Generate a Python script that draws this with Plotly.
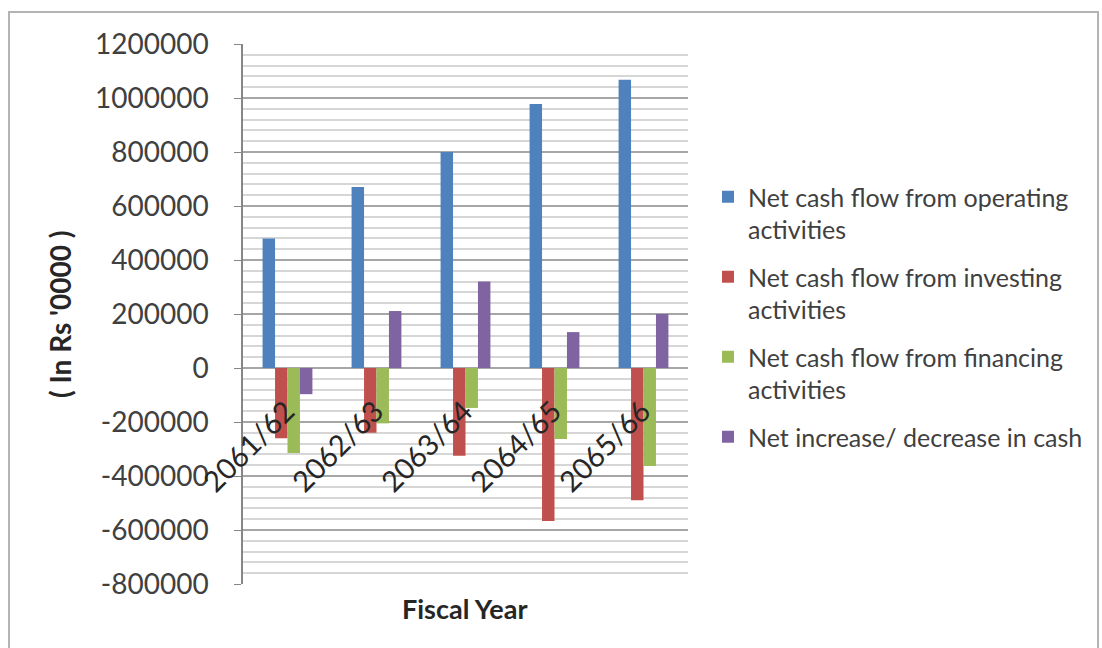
import plotly.graph_objects as go

# Fiscal years and cash flow figures (In Rs '0000)
years = ["2061/62", "2062/63", "2063/64", "2064/65", "2065/66"]
operating = [480000, 670000, 800000, 978000, 1068000]
investing = [-260000, -240000, -325000, -567000, -490000]
financing = [-315000, -205000, -148000, -263000, -363000]
net_change = [-97000, 211000, 320000, 133000, 200000]

series_names = [
    "Net cash flow from operating<br>activities",
    "Net cash flow from investing<br>activities",
    "Net cash flow from financing<br>activities",
    "Net increase/ decrease in cash",
]
series_colors = ["#4F81BD", "#C0504D", "#9BBB59", "#8064A2"]

y_ticks = list(range(-800000, 1200001, 200000))
y_tick_labels = [str(v) for v in y_ticks]

# Page and plot-area geometry in pixels
W, H = 1102, 648
ML, MR, MT, MB = 243, 414, 44, 64
PW, PH = W - ML - MR, H - MT - MB


def paper_x(px):
    return (px - ML) / PW


def paper_y(py):
    return (H - MB - py) / PH


FONT = "Lato"
TEXT = "#404040"

fig = go.Figure()
for i, (name, vals, col) in enumerate(
    zip(series_names, [operating, investing, financing, net_change], series_colors)
):
    fig.add_trace(
        go.Bar(
            x=years,
            y=vals,
            name=name,
            marker=dict(color=col, line=dict(width=0)),
            legendgroup=f"g{i}",
        )
    )

# Category labels sit just under the zero line, rotated
for yr in years:
    fig.add_annotation(
        x=yr,
        y=0,
        xref="x",
        yref="y",
        text=yr,
        showarrow=False,
        textangle=-45,
        xanchor="right",
        yanchor="top",
        xshift=16,
        yshift=-22,
        font=dict(family=FONT, size=29, color="#262626"),
    )

# Axis titles
fig.add_annotation(
    x=paper_x(60), y=paper_y(315), xref="paper", yref="paper",
    text="( In Rs '0000 )", showarrow=False, textangle=-90,
    xanchor="center", yanchor="middle",
    font=dict(family=FONT, size=28, color="#262626", weight="bold"),
)
fig.add_annotation(
    x=paper_x(465), y=paper_y(608), xref="paper", yref="paper",
    text="Fiscal Year", showarrow=False,
    xanchor="center", yanchor="middle",
    font=dict(family=FONT, size=27, color="#262626", weight="bold"),
)

# Outer chart frame
fig.add_shape(
    type="rect", xref="paper", yref="paper",
    x0=paper_x(9), x1=paper_x(1098), y0=paper_y(660), y1=paper_y(12),
    line=dict(color="#b4b4b4", width=2), fillcolor="rgba(0,0,0,0)", layer="below",
)

fig.update_layout(
    width=W,
    height=H,
    autosize=False,
    margin=dict(l=ML, r=MR, t=MT, b=MB, pad=0),
    paper_bgcolor="white",
    plot_bgcolor="white",
    barmode="group",
    bargap=0.44,
    bargroupgap=0,
    showlegend=True,
    legend=dict(
        x=paper_x(708),
        y=paper_y(174),
        xanchor="left",
        yanchor="top",
        valign="top",
        tracegroupgap=12,
        font=dict(family=FONT, size=25, color=TEXT),
        bgcolor="rgba(0,0,0,0)",
    ),
    xaxis=dict(
        type="category",
        range=[-0.5, len(years) - 0.5],
        showticklabels=False,
        showgrid=False,
        showline=False,
        zeroline=False,
        ticks="",
    ),
    yaxis=dict(
        range=[-800000, 1200000],
        tickvals=y_ticks,
        ticktext=y_tick_labels,
        tickfont=dict(family=FONT, size=28, color=TEXT),
        ticks="outside",
        ticklen=7,
        tickcolor="#868686",
        ticklabelstandoff=20,
        showline=True,
        linecolor="#868686",
        linewidth=1.5,
        showgrid=True,
        gridcolor="#a6a6a6",
        gridwidth=1.5,
        zeroline=True,
        zerolinecolor="#a6a6a6",
        zerolinewidth=1.5,
        minor=dict(dtick=40000, showgrid=True, gridcolor="#d6d6d6", gridwidth=1.5),
    ),
)

fig.write_html("out.html")
